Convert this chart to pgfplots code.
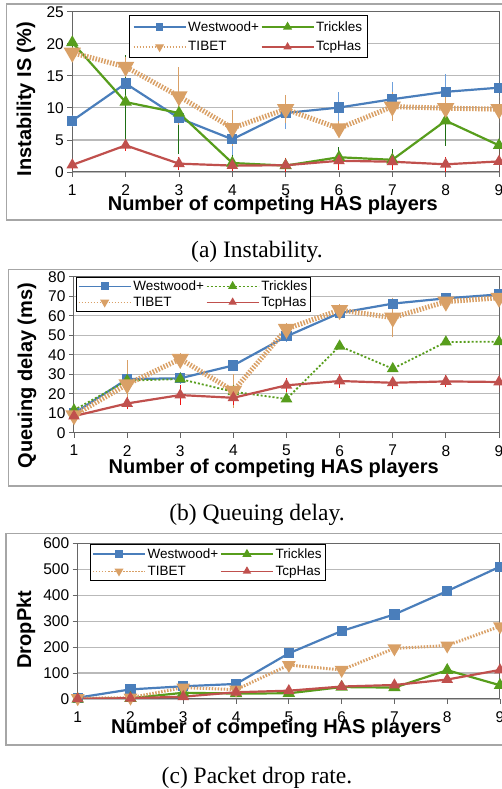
\documentclass[border=0pt]{standalone}
\usepackage{fontspec}
\setmainfont{Liberation Sans}
\newfontfamily\capfont{Liberation Serif}
\usepackage{pgfplots}
\pgfplotsset{compat=1.18}

\definecolor{wwblue}{RGB}{74,126,187}
\definecolor{wwerr}{RGB}{110,160,220}
\definecolor{trgreen}{RGB}{87,157,28}
\definecolor{trerr}{RGB}{30,110,20}
\definecolor{tbtan}{RGB}{217,160,102}
\definecolor{tcred}{RGB}{192,80,77}
\definecolor{tcerr}{RGB}{240,20,20}

\pgfplotsset{
  hasaxis/.style={
    scale only axis,
    xmin=1, xmax=9, xtick={1,...,9},
    axis line style={draw=gray!80!black, line width=1pt},
    ymajorgrids, grid style={draw=gray!55, line width=1.2pt},
    tick align=outside, major tick length=5pt,
    tick style={draw=gray!80!black, line width=0.8pt},
    xtick pos=bottom, ytick pos=left,
    ticklabel style={font=\fontsize{15.5}{17}\selectfont},
    xticklabel style={yshift=-4pt},
    /pgf/number format/assume math mode=true,
    xlabel={Number of competing HAS players},
    xlabel style={font=\fontsize{20}{22}\selectfont\bfseries,
      at={(axis description cs:0.47,0)}, anchor=center},
    ylabel style={font=\fontsize{20}{22}\selectfont\bfseries, anchor=center},
    legend columns=2,
    legend style={font=\fontsize{13.5}{15}\selectfont, draw=black,
      line width=0.8pt, inner sep=3.5pt, row sep=5pt, column sep=0pt,
      anchor=north west, cells={anchor=west}},
    legend image code/.code={
      \draw[mark repeat=2,mark phase=2,##1,line width=1.3pt,
        every mark/.append style={scale=0.8}]
        plot coordinates {(0pt,0pt) (26pt,0pt) (52pt,0pt)};},
  },
  ww/.style={color=wwblue, line width=2.2pt, mark=square*, mark size=4pt, mark options={solid}},
  tr/.style={color=trgreen, line width=2.2pt, mark=triangle*, mark size=5pt, mark options={solid}},
  tb/.style={color=tbtan, line width=5pt, dash pattern=on 1.5pt off 1.5pt, mark=triangle*,
    mark size=5pt, mark options={solid, rotate=180}},
  tc/.style={color=tcred, line width=2.2pt, mark=triangle*, mark size=4.5pt, mark options={solid}},
  eb/.style={error bars/.cd, y dir=both, y explicit,
    error bar style={solid, line width=1pt, color=#1},
    error mark options={solid, line width=1pt, mark size=4pt, color=#1}},
}

\begin{document}
\begin{tikzpicture}
\path[use as bounding box] (0pt,0pt) rectangle (502pt,789pt);

% frames
\draw[gray!70, line width=1.3pt] (6.7pt,569pt) rectangle (512pt,785pt);
\draw[gray!70, line width=1.3pt] (8.3pt,303pt) rectangle (512pt,519.7pt);
\draw[gray!70, line width=1.3pt] (6pt,44pt) rectangle (512pt,255.7pt);

% (a) Instability
\begin{axis}[hasaxis, at={(72.3pt,617pt)}, anchor=south west,
  width=426.7pt, height=160.3pt,
  ymin=0, ymax=25, ytick={0,5,...,25},
  ylabel={Instability IS (\%)},
  ylabel style={at={(axis description cs:-0.1085,0.454)}},
  xlabel style={yshift=-33pt},
  legend style={at={(axis description cs:0.133,0.977)}}]
\addplot[ww, eb=wwerr] coordinates {
  (1,8.0) +- (0,0.3) (2,13.8) +- (0,1.9) (3,8.4) +- (0,1.5) (4,5.1) +- (0,2.5)
  (5,9.2) +- (0,1.9) (6,10.05) +- (0,1.75) (7,11.35) +- (0,2.0) (8,12.5) +- (0,2.1)
  (9,13.15) +- (0,1.65)};
\addlegendentry{Westwood+}
\addplot[tr, eb=trerr] coordinates {
  (1,20.2) +- (0,0.2) (2,10.9) +- (0,6.7) (3,9.2) +- (0,5.8) (4,1.4) +- (0,0.6)
  (5,1.0) +- (0,0.6) (6,2.3) +- (0,0.9) (7,1.9) +- (0,1.0) (8,8.0) +- (0,3.3)
  (9,4.15) +- (0,1.4)};
\addlegendentry{Trickles}
\addplot[tb, eb=tbtan] coordinates {
  (1,18.6) +- (0,0.3) (2,16.4) +- (0,0.9) (3,11.8) +- (0,3.9) (4,6.85) +- (0,2.2)
  (5,9.8) +- (0,1.6) (6,6.8) +- (0,0.5) (7,10.2) +- (0,1.6) (8,9.95) +- (0,1.5)
  (9,9.8) +- (0,1.5)};
\addlegendentry{TIBET}
\addplot[tc, eb=tcerr] coordinates {
  (1,1.1) +- (0,0.1) (2,4.15) +- (0,0.2) (3,1.3) +- (0,0.4) (4,1.0) +- (0,0.2)
  (5,1.05) +- (0,0.5) (6,1.75) +- (0,0.8) (7,1.6) +- (0,0.7) (8,1.2) +- (0,0.5)
  (9,1.65) +- (0,1.3)};
\addlegendentry{TcpHas}
\end{axis}

% (b) Queuing delay
\begin{axis}[hasaxis, at={(74pt,356.3pt)}, anchor=south west,
  width=425pt, height=156pt,
  ymin=0, ymax=80, ytick={0,10,...,80},
  ylabel={Queuing delay (ms)},
  ylabel style={at={(axis description cs:-0.1106,0.365)}},
  xlabel style={yshift=-35.3pt},
  legend style={at={(axis description cs:0.005,1.0)}, row sep=1pt, inner sep=1.5pt}]
\addplot[ww, eb=wwerr] coordinates {
  (1,9.9) +- (0,0.5) (2,27.5) +- (0,3) (3,27.9) +- (0,1) (4,34.5) +- (0,0.5)
  (5,49.4) +- (0,0.8) (6,61.4) +- (0,0.5) (7,66.2) +- (0,1) (8,68.9) +- (0,0.8)
  (9,70.9) +- (0,1)};
\addlegendentry{Westwood+}
\addplot[tr, line width=1.8pt, dash pattern=on 2pt off 2pt] coordinates {
  (1,11.6) (2,26.7) (3,27.5) (4,21.0) (5,17.3) (6,44.4) (7,32.8) (8,46.5) (9,46.7)};
\addlegendentry{Trickles}
\addplot[tb, eb=tbtan] coordinates {
  (1,8.9) +- (0,0.5) (2,24.8) +- (0,10.3) (3,37.8) +- (0,1) (4,21.4) +- (0,6.5)
  (5,53.2) +- (0,1) (6,62.9) +- (0,1) (7,59.0) +- (0,8.1) (8,67.2) +- (0,1)
  (9,69.2) +- (0,1)};
\addlegendentry{TIBET}
\addplot[tc, eb=tcerr] coordinates {
  (1,8.5) +- (0,1.5) (2,15.0) +- (0,1) (3,19.3) +- (0,3.1) (4,17.9) +- (0,1.5)
  (5,24.3) +- (0,1.6) (6,26.5) +- (0,1.3) (7,25.6) +- (0,1) (8,26.3) +- (0,1)
  (9,26.0) +- (0,3)};
\addlegendentry{TcpHas}
\end{axis}

% (c) Packet drop rate
\begin{axis}[hasaxis, at={(77.7pt,90pt)}, anchor=south west,
  width=422.3pt, height=155.7pt,
  ymin=0, ymax=600, ytick={0,100,...,600},
  ylabel={DropPkt},
  ylabel style={at={(axis description cs:-0.1224,0.446)}},
  xlabel style={yshift=-29.3pt},
  legend style={at={(axis description cs:0.029,0.995)}, row sep=2pt, inner sep=2pt}]
\addplot[ww] coordinates {
  (1,5) (2,37) (3,49) (4,58) (5,176) (6,262) (7,326) (8,416) (9,510)};
\addlegendentry{Westwood+}
\addplot[tr] coordinates {
  (1,0) (2,3) (3,24) (4,21) (5,22) (6,46) (7,44) (8,111) (9,53)};
\addlegendentry{Trickles}
\addplot[tb, line width=3pt] coordinates {
  (1,3) (2,5) (3,44) (4,36) (5,131) (6,112) (7,195) (8,206) (9,280)};
\addlegendentry{TIBET}
\addplot[tc] coordinates {
  (1,1) (2,3) (3,9) (4,26) (5,32) (6,48) (7,54) (8,75) (9,112)};
\addlegendentry{TcpHas}
\end{axis}

% captions
\node[font=\capfont\fontsize{23.5}{26}\selectfont] at (257pt,537pt) {(a)\ Instability.};
\node[font=\capfont\fontsize{23.5}{26}\selectfont] at (257pt,274pt) {(b)\ Queuing delay.};
\node[font=\capfont\fontsize{23.5}{26}\selectfont] at (257pt,10.7pt) {(c)\ Packet drop rate.};
\end{tikzpicture}
\end{document}
